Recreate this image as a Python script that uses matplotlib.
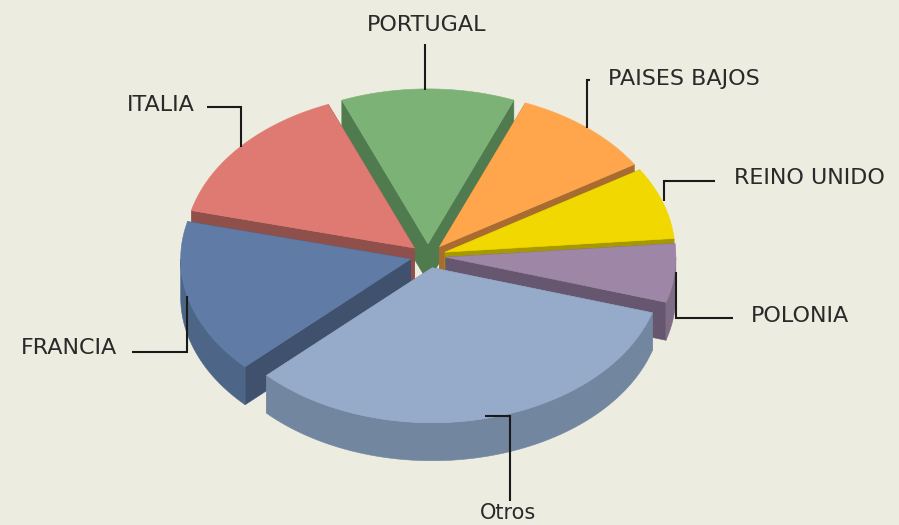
import matplotlib
matplotlib.use("Agg")
import matplotlib.pyplot as plt
import numpy as np

# --- data (share %, clockwise from the top) ---
labels = ["PORTUGAL", "PAISES BAJOS", "REINO UNIDO", "POLONIA", "Otros", "FRANCIA", "ITALIA"]
values = [12.2, 10.0, 7.5, 6.1, 33.1, 16.1, 15.0]

top_colors = ["#7DB277", "#FFA64D", "#F0D800", "#9E87A6", "#95ABC9", "#5F7BA6", "#DF7A72"]
wall_colors = ["#4F7B4E", "#A86C30", "#A89800", "#67566F", "#72869F", "#3F516D", "#8F4F4B"]
rim_colors = ["#4F7B4E", "#A86C30", "#A89800", "#7F6D86", "#72869F", "#4D6587", "#8F4F4B"]

# back slices first so the front ones cover them
draw_order = [0, 1, 6, 2, 5, 3, 4]

# --- pie geometry (pixels) ---
CX, CY = 428, 256
RX, RY = 230, 155
DEPTH = 38
EXPLODE = 0.078
START = -22.0
BG = "#ECECE0"


def rim_xy(deg):
    a = np.radians(deg)
    return np.sin(a), -np.cos(a)


def draw_slice(ax, a0, a1, top, wall, rim):
    mx, my = rim_xy((a0 + a1) / 2)
    px = CX + EXPLODE * RX * mx
    py = CY + EXPLODE * RY * my

    # radial walls
    for a in (a0, a1):
        ux, uy = rim_xy(a)
        ex, ey = px + RX * ux, py + RY * uy
        ax.fill([px, ex, ex, px], [py, ey, ey + DEPTH, py + DEPTH], color=wall, lw=0.4)

    # outer wall, only the part facing the viewer
    lo, hi = max(a0, 90), min(a1, 270)
    if hi > lo:
        t = np.linspace(lo, hi, 80)
        ux, uy = rim_xy(t)
        xs, ys = px + RX * ux, py + RY * uy
        ax.fill(np.r_[xs, xs[::-1]], np.r_[ys, ys[::-1] + DEPTH], color=rim, lw=0.4)

    # top face
    t = np.linspace(a0, a1, 100)
    ux, uy = rim_xy(t)
    ax.fill(np.r_[px, px + RX * ux], np.r_[py, py + RY * uy], color=top, lw=0.4)


fig = plt.figure(figsize=(8.99, 5.25), dpi=100, facecolor=BG)
ax = fig.add_axes([0, 0, 1, 1])
ax.set_xlim(0, 899)
ax.set_ylim(525, 0)
ax.axis("off")

edges = START + np.r_[0, np.cumsum(values)] / np.sum(values) * 360
for i in draw_order:
    draw_slice(ax, edges[i], edges[i + 1], top_colors[i], wall_colors[i], rim_colors[i])

# --- leader lines and labels ---
leaders = {
    "PORTUGAL": ([425, 425], [44, 90]),
    "PAISES BAJOS": ([590, 587, 587], [80, 80, 128]),
    "REINO UNIDO": ([715, 664, 664], [181, 181, 201]),
    "POLONIA": ([733, 676, 676], [318, 318, 272]),
    "Otros": ([485, 510, 510], [416, 416, 501]),
    "FRANCIA": ([132, 187, 187], [352, 352, 296]),
    "ITALIA": ([207, 241, 241], [107, 107, 147]),
}
label_pos = {
    "PORTUGAL": (427, 25),
    "PAISES BAJOS": (684, 79),
    "REINO UNIDO": (809, 178),
    "POLONIA": (800, 316),
    "Otros": (508, 513),
    "FRANCIA": (69, 348),
    "ITALIA": (161, 105),
}
for name in labels:
    ax.plot(*leaders[name], color="#1A1A1A", lw=1.5, solid_joinstyle="miter", solid_capstyle="butt")
    x, y = label_pos[name]
    size = 15 if name == "Otros" else 16
    ax.text(x, y, name, ha="center", va="center", fontsize=size, color="#2A2A2A", family="DejaVu Sans")

fig.savefig("out.png", dpi=100, facecolor=BG)
plt.close(fig)
